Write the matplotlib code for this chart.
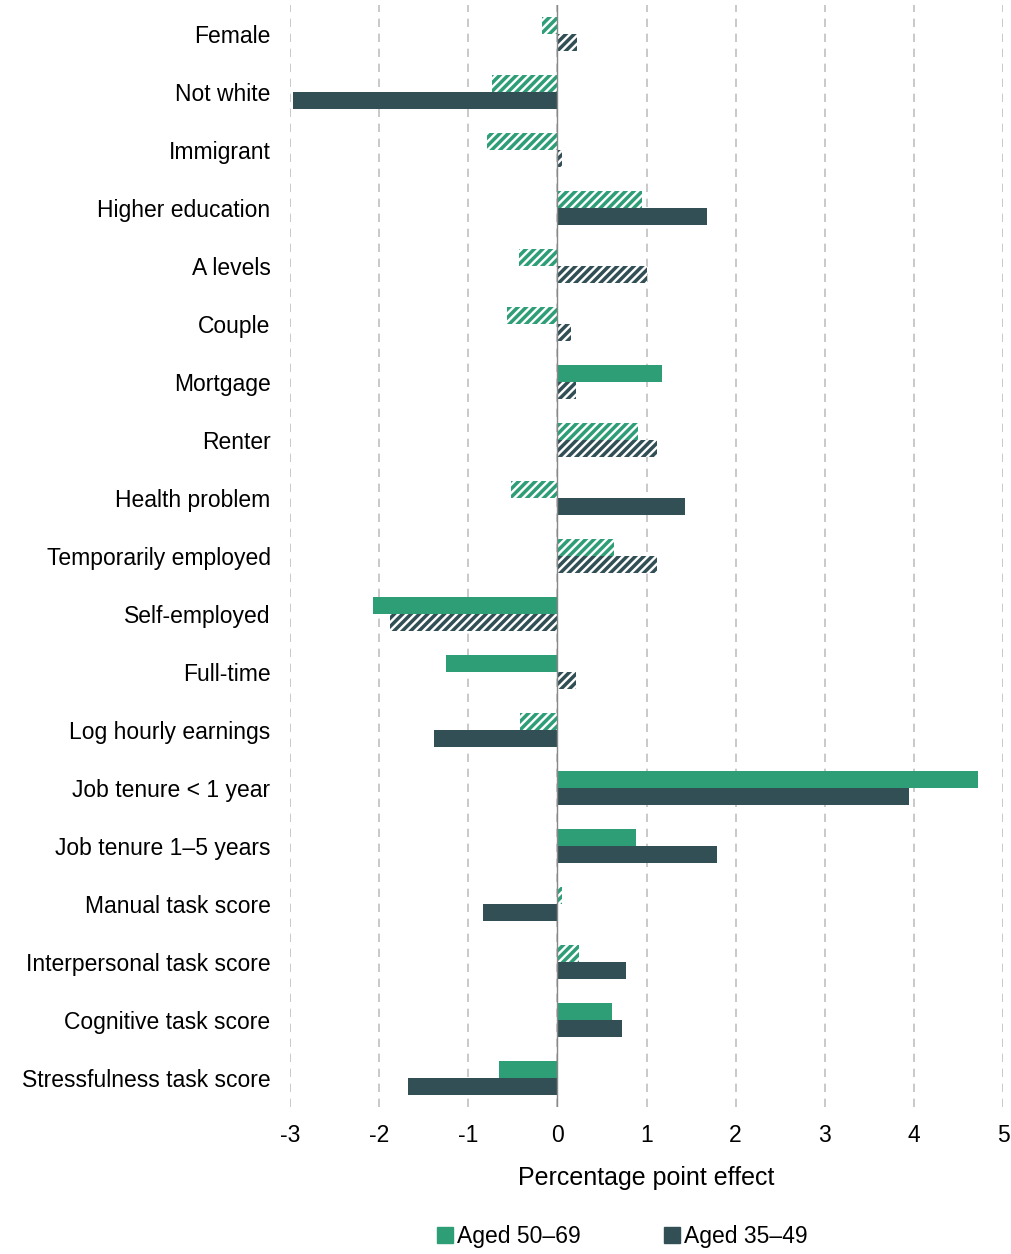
import numpy as np
import matplotlib.pyplot as plt
import matplotlib as mpl

plt.rcParams['font.family'] = ['Liberation Sans', 'DejaVu Sans']
plt.rcParams['hatch.linewidth'] = 2.5
plt.rcParams['axes.unicode_minus'] = False

categories = ['Female', 'Not white', 'Immigrant', 'Higher education', 'A levels', 'Couple',
              'Mortgage', 'Renter', 'Health problem', 'Temporarily employed', 'Self-employed',
              'Full-time', 'Log hourly earnings', 'Job tenure < 1 year', 'Job tenure 1\u20135 years',
              'Manual task score', 'Interpersonal task score', 'Cognitive task score',
              'Stressfulness task score']
aged_50_69 = [-0.17, -0.73, -0.79, 0.95, -0.43, -0.57, 1.17, 0.90, -0.52, 0.63, -2.07,
              -1.25, -0.42, 4.72, 0.88, 0.05, 0.24, 0.61, -0.65]
aged_35_49 = [0.22, -2.97, 0.05, 1.68, 1.00, 0.15, 0.21, 1.12, 1.43, 1.12, -1.88,
              0.21, -1.39, 3.95, 1.79, -0.84, 0.77, 0.72, -1.68]
# hatched = not statistically significant
hatch_50_69 = [1, 1, 1, 1, 1, 1, 0, 1, 1, 1, 0, 0, 1, 0, 0, 1, 1, 0, 0]
hatch_35_49 = [1, 0, 1, 0, 1, 1, 1, 1, 0, 1, 1, 1, 0, 0, 0, 0, 0, 0, 0]

green = '#2E9E77'
dark = '#324F55'

fig = plt.figure(figsize=(10.12, 12.54), dpi=100)
ax = fig.add_axes([0.2866, 0.117, 0.7045, 0.879])

y = np.arange(len(categories))
h = 0.29
for i in range(len(categories)):
    for val, hat, col, off in [(aged_50_69[i], hatch_50_69[i], green, -h / 2),
                               (aged_35_49[i], hatch_35_49[i], dark, h / 2)]:
        if hat:
            ax.barh(y[i] + off, val, height=h, facecolor='white', edgecolor=col,
                    hatch='////', linewidth=0)
        else:
            ax.barh(y[i] + off, val, height=h, color=col)

ax.set_yticks(y)
ax.set_yticklabels(categories, fontsize=16.5)
ax.set_ylim(len(categories) - 0.5, -0.5)
ax.set_xlim(-3, 5)
ax.set_xticks(range(-3, 6))
ax.tick_params(axis='x', labelsize=16.5, length=0, pad=12)
ax.tick_params(axis='y', length=0, pad=14)
ax.grid(axis='x', linestyle=(0, (5, 4)), color='#c0c0c0', linewidth=1.2)
ax.set_axisbelow(True)
ax.axvline(0, color='#888888', linewidth=1)
for s in ax.spines.values():
    s.set_visible(False)
ax.set_xlabel('Percentage point effect', fontsize=18, labelpad=14)

handles = [mpl.patches.Patch(color=green, label='Aged 50\u201369'),
           mpl.patches.Patch(color=dark, label='Aged 35\u201349')]
fig.legend(handles=handles, loc='lower center', bbox_to_anchor=(0.615, -0.012), ncol=2,
           frameon=False, fontsize=16.5, handlelength=0.7, handleheight=0.7,
           handletextpad=0.2, columnspacing=3.6)

fig.savefig('out.png')
